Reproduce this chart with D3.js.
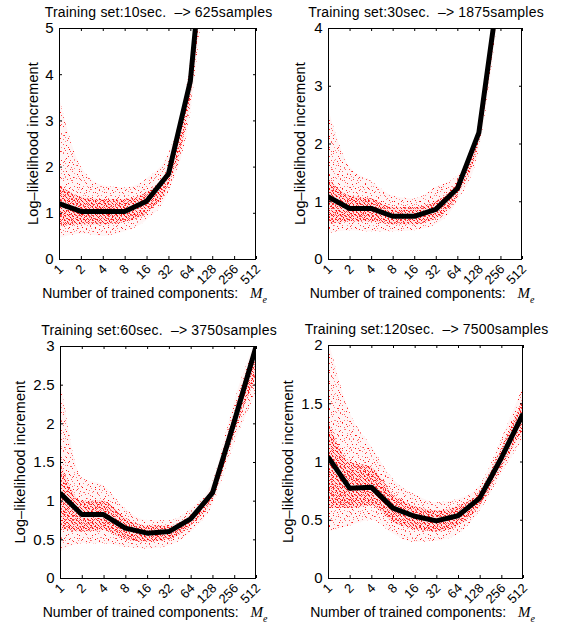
<!DOCTYPE html>
<html><head><meta charset="utf-8">
<script src="https://cdn.jsdelivr.net/npm/d3@7"></script>
<style>body{margin:0;background:#fff}svg{display:block}</style>
</head><body>
<svg id="c" width="565" height="633"></svg>
<script>
// ---------- data ----------
const xTickValues = [1, 2, 4, 8, 16, 32, 64, 128, 256, 512];
const xTickLabels = ["1", "2", "4", "8", "16", "32", "64", "128", "256", "512"];
const titles = [
  "Training set:10sec.\u00a0\u00a0\u2013> 625samples",
  "Training set:30sec.\u00a0\u00a0\u2013> 1875samples",
  "Training set:60sec.\u00a0\u00a0\u2013> 3750samples",
  "Training set:120sec.\u00a0\u00a0\u2013> 7500samples"
];
const yTicks10 = [0, 1, 2, 3, 4, 5];
const yTicks30 = [0, 1, 2, 3, 4];
const yTicks60 = [0, 0.5, 1, 1.5, 2, 2.5, 3];
const yTicks120 = [0, 0.5, 1, 1.5, 2];
const yTickLabels60 = ["0", "0.5", "1", "1.5", "2", "2.5", "3"];
const yTickLabels120 = ["0", "0.5", "1", "1.5", "2"];

// mean log-likelihood increment (black line)
const components10 = [1, 2, 4, 8, 16, 32, 64, 128];
const mean10 = [1.20, 1.03, 1.03, 1.03, 1.25, 1.84, 3.85, 8.8];
const components30 = [1, 2, 4, 8, 16, 32, 64, 128, 256];
const mean30 = [1.08, 0.875, 0.875, 0.74, 0.74, 0.86, 1.22, 2.19, 4.9];
const components60 = [1, 2, 4, 8, 16, 32, 64, 128, 256, 512];
const mean60 = [1.10, 0.82, 0.82, 0.645, 0.58, 0.60, 0.765, 1.10, 2.02, 2.99];
const components120 = [1, 2, 4, 8, 16, 32, 64, 128, 256, 512];
const mean120 = [1.04, 0.77, 0.78, 0.60, 0.53, 0.49, 0.534, 0.686, 1.03, 1.41];

// spread of individual trials (red scatter): outer (sparse) and core (dense) envelopes
const outerLo10 = [0.45, 0.55, 0.50, 0.60, 0.85, 1.45, 3.2, 8.0];
const outerHi10 = [3.50, 2.00, 1.60, 1.55, 1.75, 2.30, 4.3, 9.5];
const coreLo10  = [0.70, 0.75, 0.75, 0.80, 1.00, 1.60, 3.5, 8.4];
const coreHi10  = [1.60, 1.35, 1.30, 1.30, 1.45, 2.00, 4.0, 9.0];

const outerLo30 = [0.45, 0.50, 0.48, 0.48, 0.50, 0.60, 1.00, 1.90, 4.6];
const outerHi30 = [2.60, 1.60, 1.35, 1.10, 1.05, 1.25, 1.45, 2.40, 5.2];
const coreLo30  = [0.60, 0.65, 0.65, 0.60, 0.60, 0.70, 1.10, 2.05, 4.7];
const coreHi30  = [1.40, 1.10, 1.05, 0.90, 0.90, 1.00, 1.35, 2.30, 5.1];

const outerLo60 = [0.35, 0.45, 0.45, 0.40, 0.38, 0.42, 0.60, 0.95, 1.75, 2.40];
const outerHi60 = [2.60, 1.30, 1.20, 0.90, 0.75, 0.75, 0.90, 1.25, 2.30, 3.10];
const coreLo60  = [0.65, 0.60, 0.62, 0.50, 0.47, 0.50, 0.68, 1.02, 1.88, 2.60];
const coreHi60  = [1.50, 1.00, 1.00, 0.78, 0.68, 0.68, 0.82, 1.17, 2.15, 3.00];

const outerLo120 = [0.40, 0.45, 0.50, 0.38, 0.31, 0.32, 0.38, 0.58, 0.90, 1.20];
const outerHi120 = [2.05, 1.42, 1.13, 0.85, 0.72, 0.65, 0.68, 0.80, 1.20, 1.65];
const coreLo120  = [0.60, 0.60, 0.62, 0.48, 0.42, 0.40, 0.45, 0.62, 0.95, 1.28];
const coreHi120  = [1.35, 1.00, 0.95, 0.72, 0.62, 0.58, 0.62, 0.75, 1.12, 1.55];

// ---------- layout ----------
const panels = [
  {title: titles[0], x: components10, mean: mean10, oLo: outerLo10, oHi: outerHi10, cLo: coreLo10, cHi: coreHi10,
   ymax: 5, yt: yTicks10, ytl: yTicks10.map(String), L: 59, R: 256, T: 28, B: 259, ylabOff: 21},
  {title: titles[1], x: components30, mean: mean30, oLo: outerLo30, oHi: outerHi30, cLo: coreLo30, cHi: coreHi30,
   ymax: 4, yt: yTicks30, ytl: yTicks30.map(String), L: 328, R: 522, T: 28, B: 259, ylabOff: 23},
  {title: titles[2], x: components60, mean: mean60, oLo: outerLo60, oHi: outerHi60, cLo: coreLo60, cHi: coreHi60,
   ymax: 3, yt: yTicks60, ytl: yTickLabels60, L: 60, R: 256, T: 346, B: 578, ylabOff: 35},
  {title: titles[3], x: components120, mean: mean120, oLo: outerLo120, oHi: outerHi120, cLo: coreLo120, cHi: coreHi120,
   ymax: 2, yt: yTicks120, ytl: yTickLabels120, L: 328, R: 523, T: 345, B: 578, ylabOff: 35}
];

const svg = d3.select("#c");
const defs = svg.append("defs");
const SANS = "'Liberation Sans', Arial, Helvetica, sans-serif";
const SERIF = "'Liberation Serif', 'Times New Roman', serif";

// scatter textures (style only)
function makePattern(id, size, dots) {
  const p = defs.append("pattern").attr("id", id).attr("patternUnits", "userSpaceOnUse")
    .attr("width", size).attr("height", size);
  dots.forEach(d => p.append("rect").attr("x", d[0]).attr("y", d[1]).attr("width", 1).attr("height", 1)
    .attr("fill", "#ff0000").attr("fill-opacity", d[2]));
}
makePattern("sparseA", 13, [[1,2,0.9],[7,0,0.55],[4,6,1],[11,9,0.5],[2,10,0.7],[9,4,0.4],[12,5,0.8],[6,11,0.6],[0,7,0.45],[8,8,0.85]]);
makePattern("sparseB", 9, [[0,0,0.6],[5,3,0.8],[2,6,0.45],[7,7,0.65]]);
makePattern("denseA", 7, [[0,0,1],[3,1,0.75],[1,3,0.9],[5,5,0.55],[2,5,0.7],[6,2,0.85],[4,4,0.95]]);
makePattern("denseB", 4, [[1,0,0.7],[3,2,0.55],[0,3,0.8]]);

panels.forEach((p, i) => {
  const g = svg.append("g");
  const x = d3.scaleLog().base(2).domain([1, 512]).range([p.L, p.R]);
  const y = d3.scaleLinear().domain([0, p.ymax]).range([p.B, p.T]);
  const clipId = "clip" + i;
  defs.append("clipPath").attr("id", clipId).append("rect")
    .attr("x", p.L).attr("y", p.T).attr("width", p.R - p.L).attr("height", p.B - p.T);
  const plot = g.append("g").attr("clip-path", `url(#${clipId})`);

  const idx = d3.range(p.x.length);
  const band = (lo, hi) => d3.area().curve(d3.curveMonotoneX)
    .x(j => x(p.x[j])).y0(j => y(lo[j])).y1(j => y(hi[j]))(idx);

  plot.append("path").attr("d", band(p.oLo, p.oHi)).attr("fill", "#ff0000").attr("fill-opacity", 0.04);
  plot.append("path").attr("d", band(p.oLo, p.oHi)).attr("fill", "url(#sparseA)");
  plot.append("path").attr("d", band(p.oLo, p.oHi)).attr("fill", "url(#sparseB)");
  plot.append("path").attr("d", band(p.cLo, p.cHi)).attr("fill", "#ff0000").attr("fill-opacity", 0.08);
  plot.append("path").attr("d", band(p.cLo, p.cHi)).attr("fill", "url(#denseA)");
  plot.append("path").attr("d", band(p.cLo, p.cHi)).attr("fill", "url(#denseB)");

  plot.append("path")
    .attr("d", d3.line().x(j => x(p.x[j])).y(j => y(p.mean[j]))(idx))
    .attr("fill", "none").attr("stroke", "#000").attr("stroke-width", 5)
    .attr("stroke-linejoin", "round").attr("stroke-linecap", "butt");

  // axes box with inward ticks on all sides
  const tl = 3;
  const axG = [
    g.append("g").attr("transform", `translate(0,${p.B})`).call(d3.axisTop(x).tickValues(xTickValues).tickSize(tl).tickFormat("")),
    g.append("g").attr("transform", `translate(0,${p.T})`).call(d3.axisBottom(x).tickValues(xTickValues).tickSize(tl).tickFormat("")),
    g.append("g").attr("transform", `translate(${p.L},0)`).call(d3.axisRight(y).tickValues(p.yt).tickSize(tl).tickFormat("")),
    g.append("g").attr("transform", `translate(${p.R},0)`).call(d3.axisLeft(y).tickValues(p.yt).tickSize(tl).tickFormat(""))
  ];
  axG.forEach(a => { a.selectAll(".domain").remove(); a.selectAll("line").attr("stroke", "#000"); });
  g.append("rect").attr("x", p.L + 0.5).attr("y", p.T + 0.5).attr("width", p.R - p.L - 1).attr("height", p.B - p.T)
    .attr("fill", "none").attr("stroke", "#000").attr("stroke-width", 1);

  // y tick labels
  g.selectAll(".ytl").data(p.yt).join("text")
    .attr("x", p.L - 5).attr("y", d => y(d)).attr("dy", "0.36em")
    .attr("text-anchor", "end").attr("font-family", SANS).attr("font-size", 15).attr("letter-spacing", 0.3)
    .text((d, k) => p.ytl[k]);

  // x tick labels (rotated 45°)
  g.selectAll(".xtl").data(xTickValues).join("text")
    .attr("transform", d => `translate(${x(d) + 5},${p.B + 11}) rotate(-45)`)
    .attr("text-anchor", "end").attr("font-family", SANS).attr("font-size", 13)
    .text((d, k) => xTickLabels[k]);

  // title
  g.append("text").attr("x", (p.L + p.R) / 2 + 1).attr("y", p.T - 11)
    .attr("text-anchor", "middle").attr("font-family", SANS).attr("font-size", 14).attr("letter-spacing", 0.2)
    .text(p.title);

  // y label
  g.append("text").attr("transform", `translate(${p.L - p.ylabOff},${(p.T + p.B) / 2}) rotate(-90)`)
    .attr("text-anchor", "middle").attr("font-family", SANS).attr("font-size", 14.5).attr("letter-spacing", 0.1)
    .text("Log\u2013likelihood increment");

  // x label
  const xl = g.append("text").attr("x", (p.L + p.R) / 2 - 3).attr("y", p.B + 39)
    .attr("text-anchor", "middle").attr("font-family", SANS).attr("font-size", 14);
  xl.append("tspan").text("Number of trained components:\u00a0\u00a0 ");
  xl.append("tspan").attr("font-family", SERIF).attr("font-style", "italic").attr("font-size", 15).text("M");
  xl.append("tspan").attr("font-family", SERIF).attr("font-style", "italic")
    .attr("font-size", 10).attr("dy", 5).text("e");
});
</script>
</body></html>
